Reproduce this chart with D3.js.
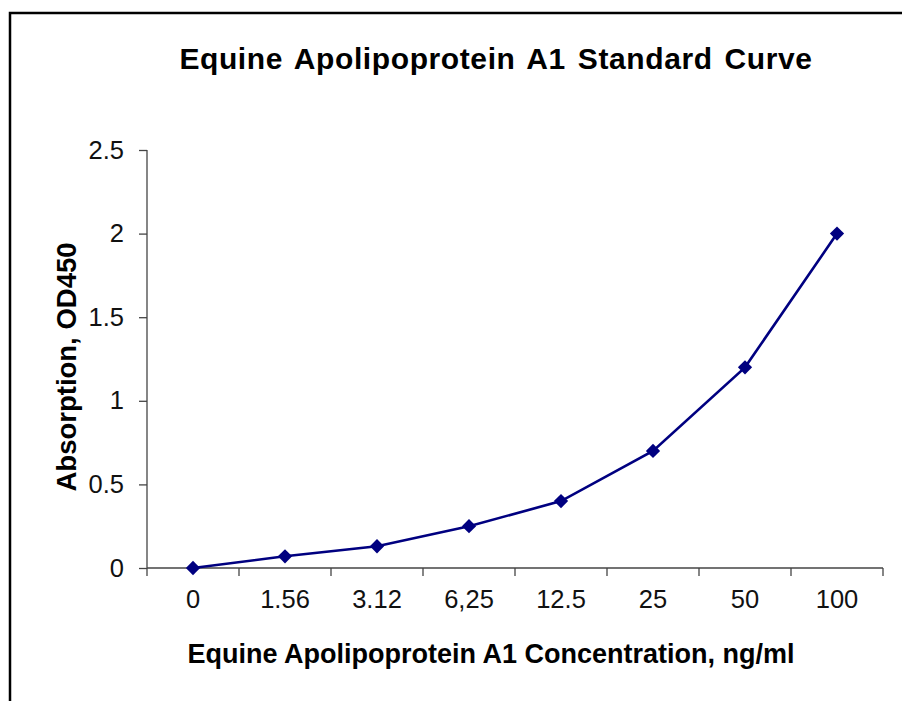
<!DOCTYPE html>
<meta charset="utf-8">
<style>
    body { margin: 0; background: #fff; }
    svg { font-family: "Liberation Sans", Arial, sans-serif; }
</style>
<svg width="902" height="701"></svg>
<script src="https://d3js.org/d3.v7.min.js"></script>
<script>
    // data
    var concentrations = ["0", "1.56", "3.12", "6,25", "12.5", "25", "50", "100"];
    var absorption = [0, 0.07, 0.13, 0.25, 0.40, 0.70, 1.20, 2.00];
    var yTicks = [0, 0.5, 1, 1.5, 2, 2.5];

    var svg = d3.select("svg"),
        margin = {top: 150, right: 19, bottom: 133, left: 147},
        width = 902 - margin.left - margin.right,
        height = 701 - margin.top - margin.bottom;

    // outer frame (runs off the right and bottom edges)
    svg.append("rect")
        .attr("x", 10).attr("y", 13)
        .attr("width", 1000).attr("height", 1000)
        .attr("fill", "none")
        .attr("stroke", "#000")
        .attr("stroke-width", 2.5);

    var g = svg.append("g")
        .attr("transform", "translate(" + margin.left + "," + margin.top + ")");

    var x = d3.scaleBand()
        .domain(concentrations)
        .range([0, width]);

    var y = d3.scaleLinear()
        .domain([0, 2.5])
        .range([height, 0]);

    // y axis
    var yAxis = g.append("g")
        .call(d3.axisLeft(y).tickValues(yTicks).tickFormat(d3.format("")).tickSize(8).tickPadding(15));
    yAxis.selectAll("text").attr("font-size", 25.5).attr("fill", "#111");

    // x axis, ticks on band boundaries
    var xAxis = g.append("g")
        .attr("transform", `translate(0,${height})`)
        .call(d3.axisBottom(x).tickSize(0).tickPadding(22));
    xAxis.selectAll("text").attr("font-size", 25.5).attr("fill", "#111");
    xAxis.selectAll(".bound")
        .data(d3.range(concentrations.length + 1))
        .enter()
        .append("line")
        .attr("class", "bound")
        .attr("x1", i => i * x.step()).attr("x2", i => i * x.step())
        .attr("y1", 0).attr("y2", 8)
        .attr("stroke", "#444");

    svg.selectAll(".domain").attr("stroke", "#444").attr("stroke-width", 1.3);
    svg.selectAll(".tick line").attr("stroke", "#444").attr("stroke-width", 1.3);
    xAxis.selectAll(".bound").attr("stroke-width", 1.3);
    xAxis.select(".domain").attr("d", `M0,0H${width}`);
    yAxis.select(".domain").attr("d", `M0,0V${height}`);

    var pts = concentrations.map(function (c, i) {
        return {c: c, v: absorption[i]};
    });

    var line = d3.line()
        .x(d => x(d.c) + x.bandwidth() / 2)
        .y(d => y(d.v));

    g.append("path")
        .datum(pts)
        .attr("d", line)
        .attr("fill", "none")
        .attr("stroke", "#000080")
        .attr("stroke-width", 2.6);

    g.selectAll(".pt")
        .data(pts)
        .enter()
        .append("path")
        .attr("class", "pt")
        .attr("d", d3.symbol().type(d3.symbolDiamond2).size(130))
        .attr("transform", d => `translate(${x(d.c) + x.bandwidth() / 2},${y(d.v)})`)
        .attr("fill", "#000080");

    // titles
    svg.append("text")
        .attr("x", 496).attr("y", 69)
        .attr("text-anchor", "middle")
        .attr("font-size", 30)
        .attr("font-weight", "bold")
        .attr("letter-spacing", 0.6)
        .attr("word-spacing", 3)
        .text("Equine Apolipoprotein A1 Standard Curve");

    svg.append("text")
        .attr("x", 491).attr("y", 663)
        .attr("text-anchor", "middle")
        .attr("font-size", 27)
        .attr("font-weight", "bold")
        .text("Equine Apolipoprotein A1 Concentration, ng/ml");

    svg.append("text")
        .attr("transform", "translate(76,367) rotate(-90)")
        .attr("text-anchor", "middle")
        .attr("font-size", 27.5)
        .attr("font-weight", "bold")
        .text("Absorption, OD450");
</script>
